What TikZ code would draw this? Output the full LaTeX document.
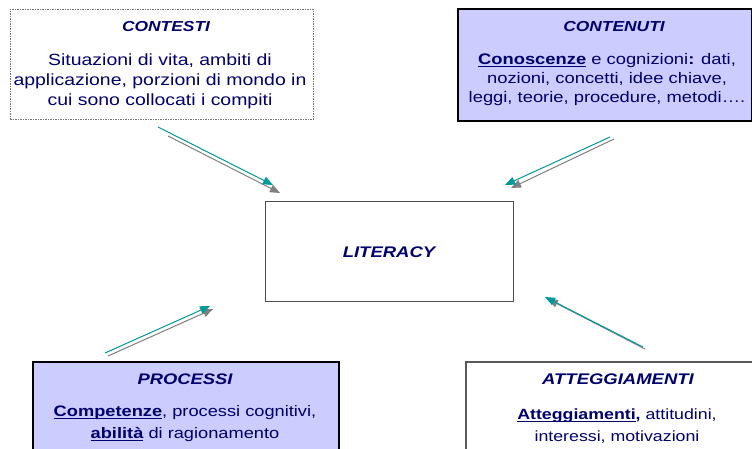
\documentclass[tikz,border=0pt]{standalone}
\usepackage{fontspec}
\setmainfont{Liberation Sans}[FakeStretch=1.2]
\usetikzlibrary{arrows.meta}
\definecolor{navy}{RGB}{0,0,110}
\definecolor{lav}{RGB}{204,204,255}
\definecolor{tealA}{RGB}{0,153,153}
\definecolor{shgray}{RGB}{128,128,128}
\newcommand\myul[1]{\setbox0\hbox{#1}\rlap{\rule[-2.4pt]{\wd0}{1.1pt}}\box0\relax}
\begin{document}
\begin{tikzpicture}[x=1pt,y=-1pt,
  box/.style={draw=black,line width=1.2pt,anchor=north west,inner sep=0pt},
  ttl/.style={text=navy,inner sep=0pt},
  body/.style={text=navy,align=center,inner sep=0pt},
  tarr/.style={draw=tealA,line width=1pt,-{Triangle[length=10pt,width=8pt]}},
  garr/.style={draw=shgray,line width=1pt,-{Triangle[length=10pt,width=8pt]}},
]
\clip (0,0) rectangle (752,448);
\fill[white] (0,0) rectangle (752,448);

% boxes
\node[box,draw=black!55,line width=0.8pt,dash pattern=on 1.5pt off 1pt,
  minimum width=303pt,minimum height=110pt] (contesti) at (10,9) {};
\node[box,fill=lav,line width=1.5pt,minimum width=294pt,minimum height=112pt] (contenuti) at (457,8) {};
\node[box,fill=lav,line width=2pt,minimum width=306pt,minimum height=100pt] (processi) at (32,361) {};
\node[box,draw=black!65,line width=1.5pt,minimum width=305pt,minimum height=100pt] (atteg) at (465,361) {};
\node[box,draw=black!70,line width=1.2pt,minimum width=248pt,minimum height=100pt] (literacy) at (265,201) {};

% texts
\node[ttl,font=\fontsize{14.5}{17}\selectfont\bfseries\itshape] (contestiT) at (166,27) {CONTESTI};
\node[body,font=\fontsize{16.2}{20}\selectfont] (contestiB) at (160,81)
  {Situazioni di vita, ambiti di\\applicazione, porzioni di mondo in\\cui sono collocati i compiti};

\node[ttl,font=\fontsize{14.5}{17}\selectfont\bfseries\itshape] (contenutiT) at (614,27) {CONTENUTI};
\node[body,font=\fontsize{15.3}{19}\selectfont] (contenutiB) at (607,80)
  {\myul{\textbf{Conoscenze}} e cognizioni\textbf{:} dati,\\nozioni, concetti, idee chiave,\\leggi, teorie, procedure, metodi….};

\node[ttl,font=\fontsize{15.3}{18}\selectfont\bfseries\itshape] (processiT) at (185,379) {PROCESSI};
\node[body,font=\fontsize{15.2}{22}\selectfont] (processiB) at (185,424)
  {\myul{\textbf{Competenze}}, processi cognitivi,\\\myul{\textbf{abilità}} di ragionamento};

\node[ttl,font=\fontsize{15.4}{18}\selectfont\bfseries\itshape] (attegT) at (618,379) {ATTEGGIAMENTI};
\node[body,font=\fontsize{14.8}{22}\selectfont] (attegB) at (617,426)
  {\myul{\textbf{Atteggiamenti}}\textbf{,} attitudini,\\interessi, motivazioni};

\node[ttl,font=\fontsize{15.4}{18}\selectfont\bfseries\itshape] (literacyT) at (389,252) {LITERACY};

% arrow end points
\coordinate (g1s) at (168,136); \coordinate (g1e) at (280,193);
\coordinate (t1s) at (158,127); \coordinate (t1e) at (273,185);
\coordinate (g2s) at (614,139); \coordinate (g2e) at (511,188);
\coordinate (t2s) at (610,137); \coordinate (t2e) at (505,185);
\coordinate (g3s) at (108,356); \coordinate (g3e) at (213,309);
\coordinate (t3s) at (105,353); \coordinate (t3e) at (210,306);
\coordinate (g4s) at (645,349); \coordinate (g4e) at (548,299);
\coordinate (t4s) at (643,347); \coordinate (t4e) at (545,297);

\draw[garr] (g1s) -- (g1e);
\draw[tarr] (t1s) -- (t1e);
\draw[garr] (g2s) -- (g2e);
\draw[tarr] (t2s) -- (t2e);
\draw[garr] (g3s) -- (g3e);
\draw[tarr] (t3s) -- (t3e);
\draw[garr] (g4s) -- (g4e);
\draw[tarr] (t4s) -- (t4e);
\end{tikzpicture}
\end{document}
